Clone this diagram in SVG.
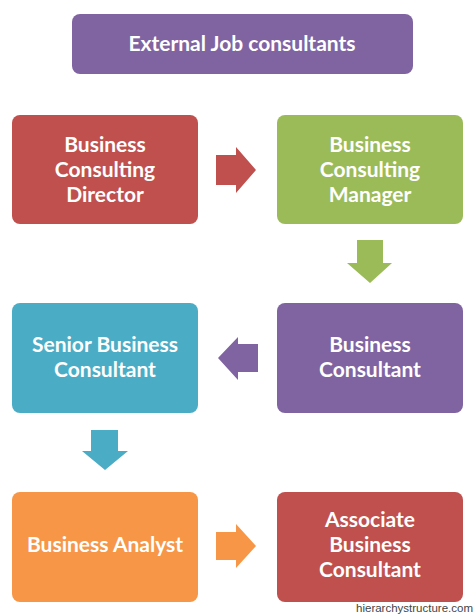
<svg xmlns="http://www.w3.org/2000/svg" width="474" height="615" viewBox="0 0 474 615">
<style>
.box{stroke:none}
.t{font-family:Lato,"Open Sans","Liberation Sans",sans-serif;font-weight:bold;font-size:21px;fill:#ffffff;text-anchor:middle}
.wm{font-family:"Liberation Sans",Arial,sans-serif;font-size:11.5px;fill:#444444}
</style>
<rect width="474" height="615" fill="#ffffff"/>
<g id="node-external">
<rect class="box" x="72" y="14" width="341" height="60" rx="8" fill="#8064A2"/>
<text class="t" x="242" y="51" font-size="20">External Job consultants</text>
</g>
<g id="node-director">
<rect class="box" x="12" y="115" width="186" height="109" rx="8" fill="#C0504D"/>
<text class="t" x="105" y="152">Business</text>
<text class="t" x="105" y="177">Consulting</text>
<text class="t" x="105" y="202">Director</text>
</g>
<g id="node-manager">
<rect class="box" x="277" y="115" width="186" height="109" rx="8" fill="#9BBB59"/>
<text class="t" x="370" y="152">Business</text>
<text class="t" x="370" y="177">Consulting</text>
<text class="t" x="370" y="202">Manager</text>
</g>
<g id="node-consultant">
<rect class="box" x="277" y="303" width="186" height="110" rx="8" fill="#8064A2"/>
<text class="t" x="370" y="352">Business</text>
<text class="t" x="370" y="377">Consultant</text>
</g>
<g id="node-senior">
<rect class="box" x="12" y="303" width="186" height="110" rx="8" fill="#4BACC6"/>
<text class="t" x="105" y="352">Senior Business</text>
<text class="t" x="105" y="377">Consultant</text>
</g>
<g id="node-analyst">
<rect class="box" x="12" y="492" width="186" height="110" rx="8" fill="#F79646"/>
<text class="t" x="105" y="552">Business Analyst</text>
</g>
<g id="node-associate">
<rect class="box" x="277" y="492" width="186" height="110" rx="8" fill="#C0504D"/>
<text class="t" x="370" y="527">Associate</text>
<text class="t" x="370" y="552">Business</text>
<text class="t" x="370" y="577">Consultant</text>
</g>
<g id="connectors">
<polygon points="216,155 236,155 236,147 256,170 236,193 236,185 216,185" fill="#C0504D"/>
<polygon points="357,240 383,240 383,263 392,263 370,283 347,263 357,263" fill="#9BBB59"/>
<polygon points="258,344 238,344 238,337 218,358 238,380 238,372 258,372" fill="#8064A2"/>
<polygon points="91,430 118,430 118,451 128,451 105,470 82,451 91,451" fill="#4BACC6"/>
<polygon points="216,532 236,532 236,524 256,546 236,568 236,560 216,560" fill="#F79646"/>
</g>
<text class="wm" x="473" y="612" text-anchor="end">hierarchystructure.com</text>
</svg>
